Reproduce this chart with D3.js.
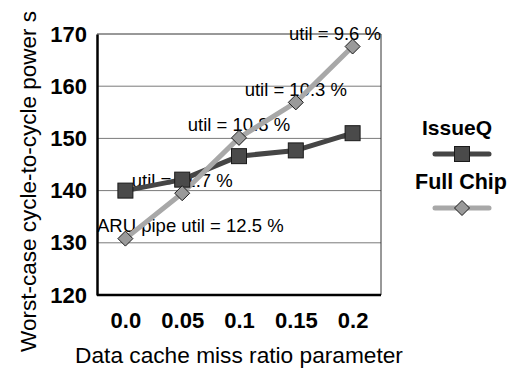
<!DOCTYPE html>
<html>
<head>
<meta charset="utf-8">
<script src="https://cdn.jsdelivr.net/npm/d3@7"></script>
<style>
  html, body { margin: 0; padding: 0; background: #fff; }
  svg { display: block; font-family: "Liberation Sans", Arial, sans-serif; }
</style>
</head>
<body>
<svg id="chart" width="514" height="369"></svg>
<script>
// Data cache miss ratio sweep
const categories = ["0.0", "0.05", "0.1", "0.15", "0.2"];
const issueQ = [140.0, 142.1, 146.6, 147.7, 151.0];
const fullChip = [130.8, 139.5, 150.1, 156.9, 167.6];
const utilLabels = ["ARU pipe util = 12.5 %", "util = 11.7 %", "util = 10.8 %", "util = 10.3 %", "util = 9.6 %"];
const yTicks = [120, 130, 140, 150, 160, 170];

const svg = d3.select("#chart");
const plot = { left: 97, right: 381, top: 34, bottom: 295 };

const x = d3.scalePoint().domain(categories).range([plot.left, plot.right]).padding(0.5);
const y = d3.scaleLinear().domain([120, 170]).range([plot.bottom, plot.top]);

// Horizontal gridlines
svg.append("g").selectAll("line")
  .data(yTicks.filter(t => t > 120 && t < 170))
  .join("line")
  .attr("x1", plot.left).attr("x2", plot.right)
  .attr("y1", d => y(d)).attr("y2", d => y(d))
  .attr("stroke", "#7a7a7a").attr("stroke-width", 1);

// Plot frame: thin top/right, heavy left/bottom axes
svg.append("line").attr("x1", plot.left).attr("x2", plot.right)
  .attr("y1", y(170)).attr("y2", y(170)).attr("stroke", "#333").attr("stroke-width", 1);
svg.append("line").attr("x1", plot.right).attr("x2", plot.right)
  .attr("y1", plot.top).attr("y2", plot.bottom).attr("stroke", "#333").attr("stroke-width", 1);

// Y axis
const yAxis = svg.append("g")
  .attr("transform", `translate(${plot.left},0)`)
  .call(d3.axisLeft(y).tickValues(yTicks).tickSize(0).tickPadding(10).tickFormat(d3.format("d")));
yAxis.select(".domain").attr("stroke", "#000").attr("stroke-width", 2.5);
yAxis.selectAll("text").attr("font-size", 22).attr("font-weight", "bold")
  .attr("fill", "#000").attr("font-family", "Liberation Sans, Arial, sans-serif");

// X axis
const xAxis = svg.append("g")
  .attr("transform", `translate(0,${plot.bottom})`)
  .call(d3.axisBottom(x).tickSize(0).tickPadding(17));
xAxis.select(".domain").attr("stroke", "#000").attr("stroke-width", 2.5)
  .attr("d", `M${plot.left},0H${plot.right}`);
xAxis.selectAll("text").attr("font-size", 22).attr("font-weight", "bold")
  .attr("fill", "#000").attr("font-family", "Liberation Sans, Arial, sans-serif");

// Axis titles
svg.append("text")
  .attr("transform", `translate(36,${(13 + 350) / 2}) rotate(-90)`)
  .attr("text-anchor", "middle").attr("font-size", 22.5).attr("fill", "#000")
  .text("Worst-case cycle-to-cycle power s");
svg.append("text")
  .attr("x", 239).attr("y", 363)
  .attr("text-anchor", "middle").attr("font-size", 22.7).attr("fill", "#000")
  .text("Data cache miss ratio parameter");

// Utilisation annotations above each Full Chip point, kept inside the plot
const ann = svg.append("g").attr("font-size", 18.5).attr("fill", "#000");
categories.forEach((c, i) => {
  const t = ann.append("text").attr("y", y(fullChip[i]) - 6.5).text(utilLabels[i]);
  const w = t.node().getComputedTextLength();
  let lx = x(c) - w / 2;
  lx = Math.max(plot.left, Math.min(plot.right - w, lx));
  t.attr("x", lx);
});

// Series lines
const line = d3.line().x((d, i) => x(categories[i])).y(d => y(d));
svg.append("path").datum(issueQ).attr("d", line)
  .attr("fill", "none").attr("stroke", "#454545").attr("stroke-width", 5).attr("stroke-linejoin", "round");
svg.append("path").datum(fullChip).attr("d", line)
  .attr("fill", "none").attr("stroke", "#a8a8a8").attr("stroke-width", 5).attr("stroke-linejoin", "round");

// Markers
const sq = 15, dm = 7.5;
function square(g, cx, cy) {
  g.append("rect").attr("x", cx - sq / 2).attr("y", cy - sq / 2)
    .attr("width", sq).attr("height", sq)
    .attr("fill", "#4a4a4a").attr("stroke", "#1a1a1a").attr("stroke-width", 1);
}
function diamond(g, cx, cy) {
  g.append("path")
    .attr("d", `M${cx},${cy - dm}L${cx + dm},${cy}L${cx},${cy + dm}L${cx - dm},${cy}Z`)
    .attr("fill", "#9a9a9a").attr("stroke", "#1a1a1a").attr("stroke-width", 1);
}
const marks = svg.append("g");
issueQ.forEach((v, i) => square(marks, x(categories[i]), y(v)));
fullChip.forEach((v, i) => diamond(marks, x(categories[i]), y(v)));

// Legend
const lg = svg.append("g");
const lgX1 = 435, lgX2 = 489, lgC = 462;
lg.append("text").attr("x", 457).attr("y", 135).attr("text-anchor", "middle")
  .attr("font-size", 21).attr("font-weight", "bold").text("IssueQ");
lg.append("line").attr("x1", lgX1).attr("x2", lgX2).attr("y1", 154).attr("y2", 154)
  .attr("stroke", "#454545").attr("stroke-width", 5).attr("stroke-linecap", "round");
square(lg, lgC, 154);
lg.append("text").attr("x", 461).attr("y", 189).attr("text-anchor", "middle")
  .attr("font-size", 21.5).attr("font-weight", "bold").text("Full Chip");
lg.append("line").attr("x1", lgX1).attr("x2", lgX2).attr("y1", 208).attr("y2", 208)
  .attr("stroke", "#a8a8a8").attr("stroke-width", 5).attr("stroke-linecap", "round");
diamond(lg, lgC, 208);
</script>
</body>
</html>
